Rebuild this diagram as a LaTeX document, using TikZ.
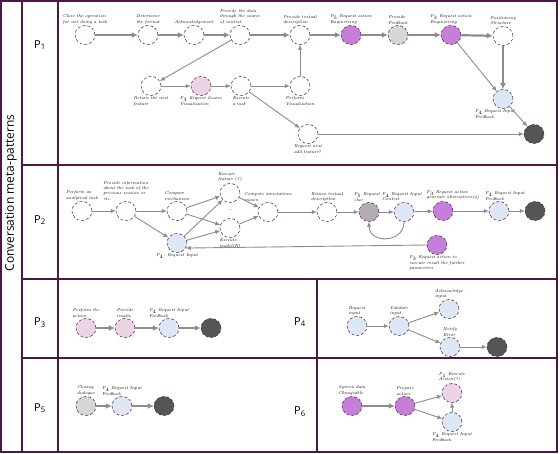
\documentclass[tikz,border=0pt]{standalone}
\usepackage{fontspec}
\newfontfamily\sansf{Open Sans}
\usetikzlibrary{arrows.meta,shapes.geometric}
\definecolor{edge}{HTML}{4A1A45}
\definecolor{arrowc}{HTML}{8C8C8C}
\definecolor{pinkf}{HTML}{ECD4E4}
\definecolor{bluef}{HTML}{DDE7F5}
\definecolor{purplef}{HTML}{C67FD8}
\definecolor{grayf}{HTML}{D6D6D6}
\definecolor{midf}{HTML}{B3ACB3}
\definecolor{darkf}{HTML}{555555}
\begin{document}
\begin{tikzpicture}[x=1pt,y=-1pt,
	st/.style={ellipse,draw=edge,densely dashed,line width=.5pt,minimum width=20pt,minimum height=19pt,inner sep=0pt,fill=white},
	pk/.style={st,fill=pinkf},
	bl/.style={st,fill=bluef},
	pu/.style={st,fill=purplef},
	gy/.style={st,fill=grayf},
	dg/.style={st,fill=midf},
	ed/.style={st,fill=darkf},
	lbl/.style={font=\fontsize{4.3}{5.2}\selectfont\itshape,align=left,inner sep=1pt},
	thk/.style={draw=arrowc,line width=2.2pt,-{Latex[length=6pt,width=6pt]}},
	thn/.style={draw=arrowc,line width=.9pt,-{Latex[length=5pt,width=4.5pt]}},
	rowlbl/.style={font=\sansf\fontsize{11}{13}\selectfont}]
				\useasboundingbox (0,0) rectangle (560,454);
				\draw [edge,line width=1.1pt] (1,1) rectangle (557,452);
				\draw [edge,line width=1.1pt] (22,1) -- (22,452);
				\draw [edge,line width=1.1pt] (58,1) -- (58,452);
				\foreach \y in {165,279,358}
					\draw [edge,line width=1.1pt] (22,\y) -- (557,\y);
				\draw [edge,line width=1.1pt] (317,279) -- (317,452);
				\node [rotate=90,font=\sansf\fontsize{12}{14}\selectfont] (title) at (11,193) {Conversation meta-patterns};
				\node [rowlbl] (r1) at (40,45) {P\textsubscript{1}};
				\node [rowlbl] (r2) at (40,220) {P\textsubscript{2}};
				\node [rowlbl] (r3) at (40,323) {P\textsubscript{3}};
				\node [rowlbl] (r5) at (40,408) {P\textsubscript{5}};
				\node [rowlbl] (r4) at (300,322) {P\textsubscript{4}};
				\node [rowlbl] (r6) at (300,412) {P\textsubscript{6}};

				\node [st,label={[lbl]above:{Close the operation\\for not doing a task}}] (n1) at (85,35) {};
				\node [st,label={[lbl]above:{Determine\\the format}}] (n2) at (148,35) {};
				\node [st,label={[lbl]above:{Acknowledgement}}] (n3) at (194,35) {};
				\node [st,label={[lbl]above:{Provide the data\\through the source\\of context}}] (n4) at (240,35) {};
				\node [st,label={[lbl]above:{Provide textual\\description}}] (n5) at (300,35) {};
				\node [pu,label={[lbl]above:{P$_5$ Request action\\Engineering}}] (n6) at (351,35) {};
				\node [gy,label={[lbl]above:{Provide\\Feedback}}] (n7) at (398,35) {};
				\node [pu,label={[lbl]above:{P$_3$ Request action\\Engineering}}] (n8) at (451,35) {};
				\node [st,label={[lbl]above:{Positioning\\Structure}}] (n9) at (503,36) {};
				\node [st,label={[lbl]below:{Return the next\\feature}}] (m1) at (151,86) {};
				\node [pk,label={[lbl]below:{P$_3$ Request Source\\Visualization}}] (m2) at (201,86) {};
				\node [st,label={[lbl]below:{Execute\\a task}}] (m3) at (241,86) {};
				\node [st,label={[lbl]below:{Perform\\Visualization}}] (m4) at (300,86) {};
				\node [st,label={[lbl]below:{Request next\\add feature?}}] (m5) at (308,134) {};
				\node [bl,label={[lbl,xshift=-8pt]below:{P$_4$ Request Input\\Feedback}}] (m6) at (503,99) {};
				\node [ed] (m7) at (534,134) {};
				\draw [thk] (n1) -- (n2);
				\draw [thk] (n2) -- (n3);
				\draw [thk] (n3) -- (n4);
				\draw [thk] (n4) -- (n5);
				\draw [thk] (n5) -- (n6);
				\draw [thk] (n6) -- (n7);
				\draw [thk] (n7) -- (n8);
				\draw [thk] (n8) -- (n9);
				\draw [thk] (n9) -- (m6);
				\draw [thn] (n4) -- (m1);
				\draw [thn] (m1) -- (m2);
				\draw [thn] (m2) -- (m3);
				\draw [thn] (m3) -- (m4);
				\draw [thn] (m4) -- (n5);
				\draw [thn] (m3) -- (m5);
				\draw [thn] (m5) -- (m7);
				\draw [thn] (n8) -- (m6);
				\draw [thn] (m6) -- (m7);

				\node [st,label={[lbl]above:{Perform an\\analytical task}}] (a1) at (82,211) {};
				\node [st,label={[lbl]above:{Provide information\\about the task of the\\previous session or\\etc.}}] (a2) at (126,211) {};
				\node [st,label={[lbl]above:{Compare\\mechanism}}] (a3) at (177,211) {};
				\node [bl,label={[lbl]below:{P$_4$: Request Input}}] (a4) at (177,243) {};
				\node [st,label={[lbl]above:{Execute\\feature (1)}}] (a5) at (230,193) {};
				\node [font=\tiny] (dots) at (230,210) {\dots};
				\node [st,label={[lbl]below:{Execute\\model(N)}}] (a6) at (230,228) {};
				\node [st,label={[lbl]above:{Compute annotations\\reason}}] (a7) at (268,212) {};
				\node [st,label={[lbl]above:{Return textual\\description}}] (a8) at (327,212) {};
				\node [dg,label={[lbl,xshift=-2pt]above:{P$_5$ Request\\clue}}] (a9) at (369,212) {};
				\node [bl,label={[lbl,xshift=-2pt]above:{P$_4$ Request Input\\Context}}] (a10) at (404,212) {};
				\node [pu,label={[lbl,xshift=10pt]above:{P$_3$ Request action\\generate alternatives(4)}}] (a11) at (443,211) {};
				\node [bl,label={[lbl,xshift=6pt]above:{P$_4$ Request Input\\Feedback}}] (a12) at (499,211) {};
				\node [ed] (a13) at (535,211) {};
				\node [pu,label={[lbl]below:{P$_3$ Request action to\\execute result the further\\parameters}}] (a14) at (437,245) {};
				\draw [thn] (a1) -- (a2);
				\draw [thn] (a2) -- (a3);
				\draw [thn] (a2) -- (a4);
				\draw [thn] (a3) -- (a5);
				\draw [thn] (a3) -- (a6);
				\draw [thn] (a4) -- (a5);
				\draw [thn] (a4) -- (a6);
				\draw [thn] (a5) -- (a7);
				\draw [thn] (a6) -- (a7);
				\draw [thn] (a7) -- (a8);
				\draw [thn] (a8) -- (a9);
				\draw [thn] (a9) -- (a10);
				\draw [thn] (a10.south) .. controls +(0,22) and +(0,22) .. (a9.south);
				\draw [thn] (a10) -- (a11);
				\draw [thn] (a11) -- (a12);
				\draw [thn] (a12) -- (a13);
				\draw [thn] (a14.west) -- (a4.-30);

				\node [pk,label={[lbl]above:{Perform the\\action}}] (b1) at (86,328) {};
				\node [pk,label={[lbl]above:{Provide\\results}}] (b2) at (125,328) {};
				\node [bl,label={[lbl]above:{P$_4$ Request Input\\Feedback}}] (b3) at (169,328) {};
				\node [ed] (b4) at (211,328) {};
				\draw [thk] (b1) -- (b2);
				\draw [thk] (b2) -- (b3);
				\draw [thk] (b3) -- (b4);

				\node [bl,label={[lbl]above:{Request\\input}}] (c1) at (357,326) {};
				\node [bl,label={[lbl]above:{Validate\\input}}] (c2) at (399,326) {};
				\node [bl,label={[lbl]above:{Acknowledge\\input}}] (c3) at (449,309) {};
				\node [bl,label={[lbl]above:{Notify\\Error}}] (c4) at (450,347) {};
				\node [ed] (c5) at (497,347) {};
				\draw [thn] (c1) -- (c2);
				\draw [thn] (c2) -- (c3);
				\draw [thn] (c2) -- (c4);
				\draw [thn] (c4) -- (c5);

				\node [gy,label={[lbl]above:{Closing\\dialogue}}] (d1) at (86,406) {};
				\node [bl,label={[lbl]above:{P$_4$ Request Input\\Feedback}}] (d2) at (122,406) {};
				\node [ed] (d3) at (164,406) {};
				\draw [thk] (d1) -- (d2);
				\draw [thk] (d2) -- (d3);

				\node [pu,label={[lbl]above:{System data\\Changeable}}] (e1) at (352,406) {};
				\node [pu,label={[lbl]above:{Propose\\action}}] (e2) at (405,406) {};
				\node [pk,label={[lbl]above:{P$_1$ Execute\\Action(?)}}] (e3) at (452,393) {};
				\node [bl,label={[lbl]below:{P$_4$ Request Input\\Feedback}}] (e4) at (452,422) {};
				\draw [thk] (e1) -- (e2);
				\draw [thn] (e2) -- (e3);
				\draw [thn] (e2) -- (e4);
				\draw [thn] (e4) -- (e3);
\end{tikzpicture}
\end{document}
